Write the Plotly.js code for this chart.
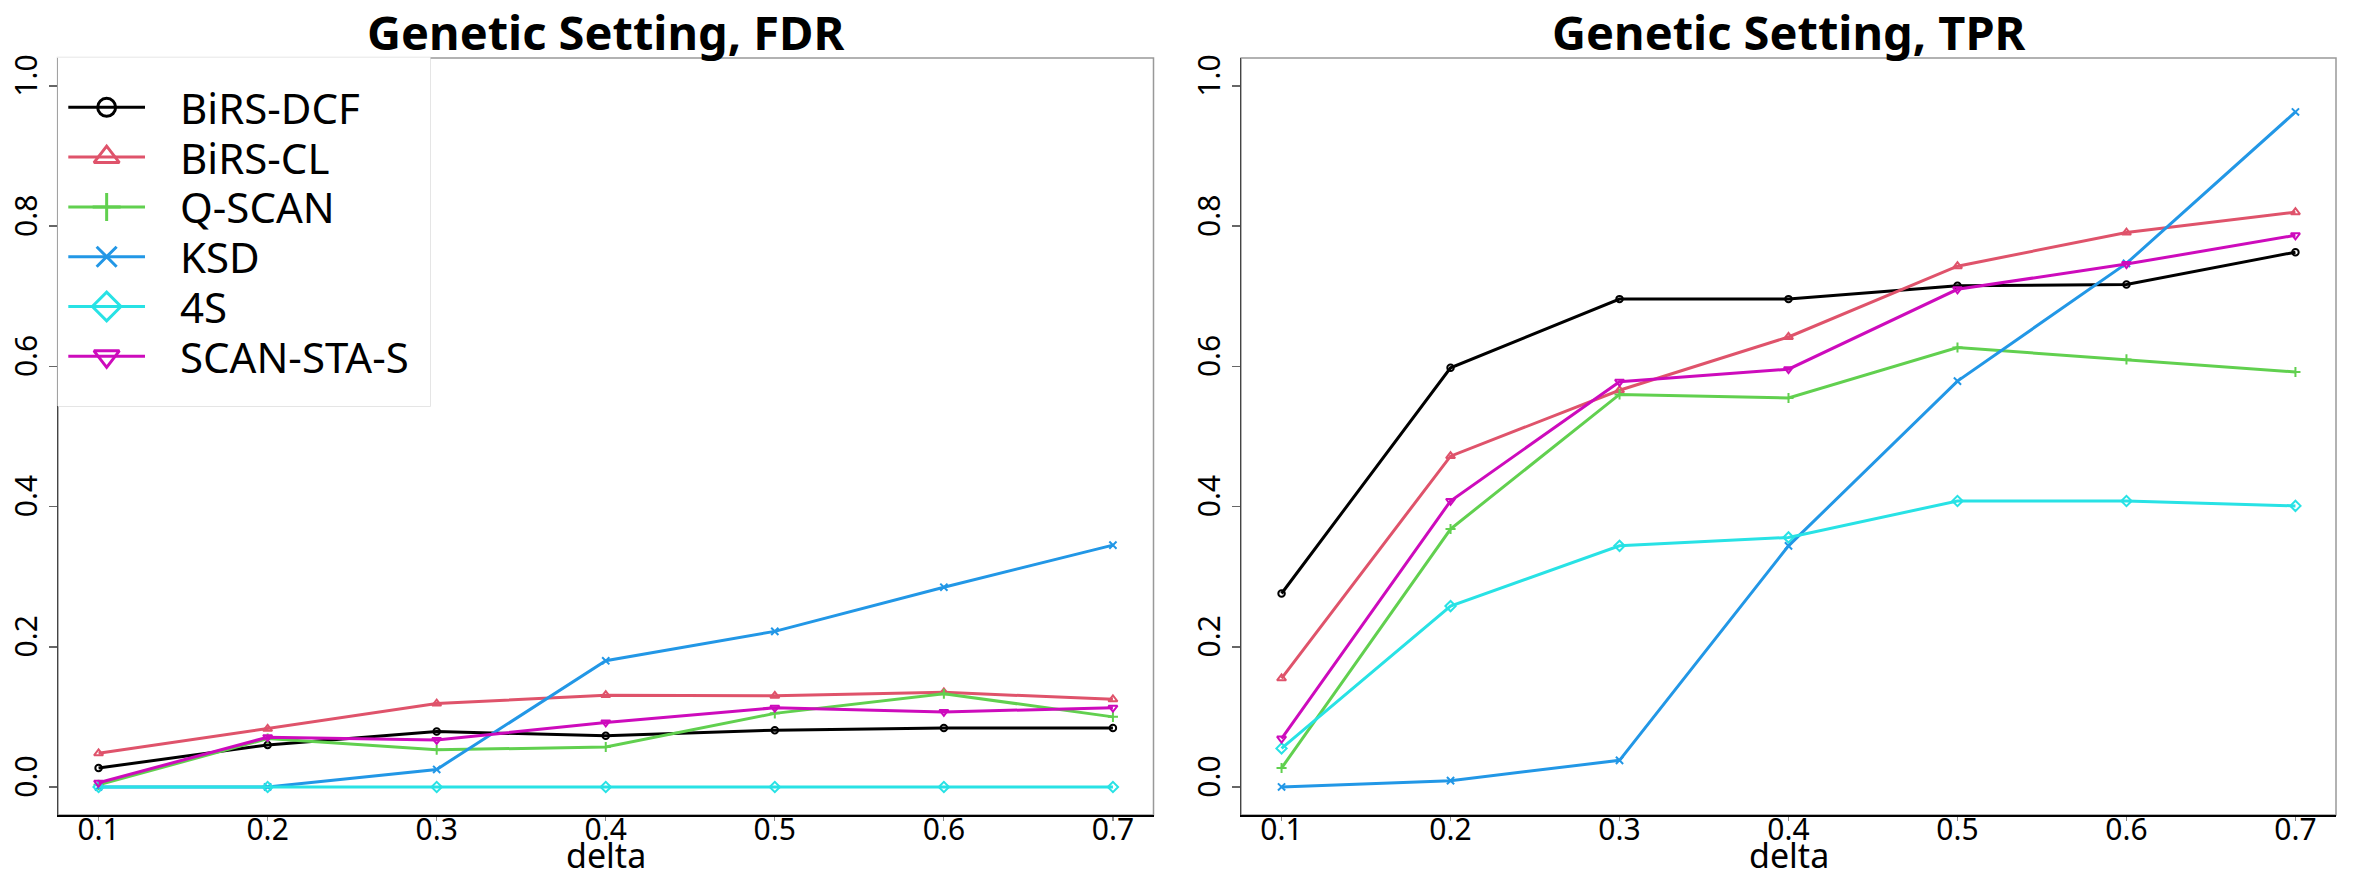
<!DOCTYPE html>
<html>
<head>
<meta charset="utf-8">
<script src="https://cdn.plot.ly/plotly-3.0.1.min.js"></script>
<style>html,body{margin:0;padding:0;background:#fff;}#chart{width:2366px;height:888px;}</style>
</head>
<body>
<div id="chart"></div>
<script>
// ---- data ----
const delta = [0.1, 0.2, 0.3, 0.4, 0.5, 0.6, 0.7];
const methods = ['BiRS-DCF', 'BiRS-CL', 'Q-SCAN', 'KSD', '4S', 'SCAN-STA-S'];
const yTicks = [0.0, 0.2, 0.4, 0.6, 0.8, 1.0];
const yTickLabels = ['0.0', '0.2', '0.4', '0.6', '0.8', '1.0'];
const xTickLabels = ['0.1', '0.2', '0.3', '0.4', '0.5', '0.6', '0.7'];

// FDR panel
const fdrBiRSDCF  = [0.027, 0.060, 0.079, 0.073, 0.081, 0.084, 0.084];
const fdrBiRSCL   = [0.048, 0.083, 0.119, 0.131, 0.130, 0.135, 0.125];
const fdrQSCAN    = [0.003, 0.069, 0.053, 0.057, 0.105, 0.133, 0.100];
const fdrKSD      = [0.000, 0.000, 0.025, 0.180, 0.222, 0.285, 0.345];
const fdr4S       = [0.000, 0.000, 0.000, 0.000, 0.000, 0.000, 0.000];
const fdrSCANSTAS = [0.006, 0.071, 0.067, 0.092, 0.113, 0.107, 0.113];

// TPR panel
const tprBiRSDCF  = [0.276, 0.598, 0.696, 0.696, 0.715, 0.717, 0.763];
const tprBiRSCL   = [0.155, 0.472, 0.566, 0.642, 0.743, 0.791, 0.820];
const tprQSCAN    = [0.027, 0.368, 0.560, 0.555, 0.627, 0.610, 0.592];
const tprKSD      = [0.000, 0.009, 0.038, 0.344, 0.579, 0.747, 0.963];
const tpr4S       = [0.055, 0.258, 0.344, 0.356, 0.408, 0.408, 0.401];
const tprSCANSTAS = [0.069, 0.408, 0.578, 0.596, 0.710, 0.746, 0.787];

const fdrSeries = [fdrBiRSDCF, fdrBiRSCL, fdrQSCAN, fdrKSD, fdr4S, fdrSCANSTAS];
const tprSeries = [tprBiRSDCF, tprBiRSCL, tprQSCAN, tprKSD, tpr4S, tprSCANSTAS];

// ---- styles ----
const colors  = ['#000000', '#DF536B', '#61D04F', '#2297E6', '#28E2E5', '#CD0BBC'];
const symbols = ['circle-open', 'triangle-up-open', 'cross-thin-open', 'x-thin-open', 'diamond-open', 'triangle-down-open'];
const legSizes = [18, 22, 20, 20, 22, 22];
const FONT = '"Noto Sans", sans-serif';

const traces = [];
function addPanel(series, xa, ya) {
  series.forEach((vals, i) => {
    traces.push({
      type: 'scatter', mode: 'lines+markers', x: delta, y: vals,
      xaxis: xa, yaxis: ya, name: methods[i], showlegend: false,
      line: {color: colors[i], width: 3},
      marker: {symbol: symbols[i], size: legSizes[i] * 0.36, color: colors[i], line: {color: colors[i], width: 2}}
    });
  });
}
addPanel(fdrSeries, 'x', 'y');
addPanel(tprSeries, 'x2', 'y2');

// legend samples on their own axis pair (rows 0..5, sample line from 0 to 1)
methods.forEach((m, i) => {
  traces.push({type: 'scatter', mode: 'lines', x: [0, 1], y: [i, i], xaxis: 'x3', yaxis: 'y3',
    showlegend: false, hoverinfo: 'skip', line: {color: colors[i], width: 3}});
  traces.push({type: 'scatter', mode: 'markers', x: [0.5], y: [i], xaxis: 'x3', yaxis: 'y3',
    showlegend: false, hoverinfo: 'skip',
    marker: {symbol: symbols[i], size: legSizes[i], color: colors[i], line: {color: colors[i], width: 3}}});
});

const W = 2366, H = 888;
const px = v => v / W, py = v => 1 - v / H;
const dom1 = [px(58), px(1153.5)], dom2 = [px(1241), px(2336)];
const ydom = [py(815), py(58)];
function xAxis(domain, anchor) {
  return {domain: domain, anchor: anchor, range: [0.076, 0.724],
    tickmode: 'array', tickvals: delta, ticktext: xTickLabels,
    ticks: 'outside', ticklen: 4, tickwidth: 1.2, tickcolor: '#888',
    tickfont: {family: FONT, size: 30, color: '#000'}, ticklabelstandoff: -17,
    showline: true, linecolor: '#000', linewidth: 1.5, showgrid: false, zeroline: false};
}
function yAxis(anchor) {
  return {domain: ydom, anchor: anchor, range: [-0.04, 1.04],
    tickmode: 'array', tickvals: yTicks, ticktext: yTickLabels, tickangle: -90,
    ticks: 'outside', ticklen: 7.5, tickwidth: 1.5, tickcolor: '#666',
    tickfont: {family: FONT, size: 30, color: '#000'}, ticklabelstandoff: -4.6, ticklabelshift: -6,
    showline: true, linecolor: '#444', linewidth: 1.5, showgrid: false, zeroline: false};
}
const legX0 = 57.5, legX1 = 430, legY0 = 57.5, legY1 = 406;
const lineL = 68.3, lineR = 145, rowTop = 107.3, rowStep = 49.8;
const layout = {
  width: W, height: H, margin: {l: 0, r: 0, t: 0, b: 0},
  paper_bgcolor: '#fff', plot_bgcolor: '#fff', showlegend: false,
  font: {family: FONT, color: '#000'},
  xaxis: xAxis(dom1, 'y'), yaxis: yAxis('x'),
  xaxis2: xAxis(dom2, 'y2'), yaxis2: yAxis('x2'),
  xaxis3: {domain: [px(legX0), px(legX1)], anchor: 'y3',
           range: [(legX0 - lineL) / (lineR - lineL), (legX1 - lineL) / (lineR - lineL)], visible: false},
  yaxis3: {domain: [py(legY1), py(legY0)], anchor: 'x3',
           range: [(legY1 - rowTop) / rowStep, (legY0 - rowTop) / rowStep], visible: false},
  shapes: [
    {type: 'rect', xref: 'x domain', yref: 'y domain', x0: 0, x1: 1, y0: 0, y1: 1, line: {color: '#999', width: 1.5}, layer: 'below'},
    {type: 'rect', xref: 'x2 domain', yref: 'y2 domain', x0: 0, x1: 1, y0: 0, y1: 1, line: {color: '#999', width: 1.5}, layer: 'below'},
    {type: 'rect', xref: 'x3 domain', yref: 'y3 domain', x0: 0, x1: 1, y0: 0, y1: 1, line: {color: '#ddd', width: 1.5}, fillcolor: '#fff', layer: 'below'}
  ],
  annotations: [
    {text: '<b>Genetic Setting, FDR</b>', xref: 'x domain', yref: 'paper', x: 0.5, y: py(32), xanchor: 'center', yanchor: 'middle', showarrow: false, font: {family: FONT, size: 47, color: '#000'}},
    {text: '<b>Genetic Setting, TPR</b>', xref: 'x2 domain', yref: 'paper', x: 0.5, y: py(32), xanchor: 'center', yanchor: 'middle', showarrow: false, font: {family: FONT, size: 47, color: '#000'}},
    {text: 'delta', xref: 'x domain', yref: 'paper', x: 0.5, y: py(855), xanchor: 'center', yanchor: 'middle', showarrow: false, font: {family: FONT, size: 34, color: '#000'}},
    {text: 'delta', xref: 'x2 domain', yref: 'paper', x: 0.5, y: py(855), xanchor: 'center', yanchor: 'middle', showarrow: false, font: {family: FONT, size: 34, color: '#000'}}
  ]
};
methods.forEach((m, i) => {
  layout.annotations.push({text: m, xref: 'x3', yref: 'y3', x: (178 - lineL) / (lineR - lineL), y: i,
    xanchor: 'left', yanchor: 'middle', showarrow: false, font: {family: FONT, size: 42, color: '#000'}});
});

Plotly.newPlot('chart', traces, layout, {staticPlot: true});
</script>
</body>
</html>
